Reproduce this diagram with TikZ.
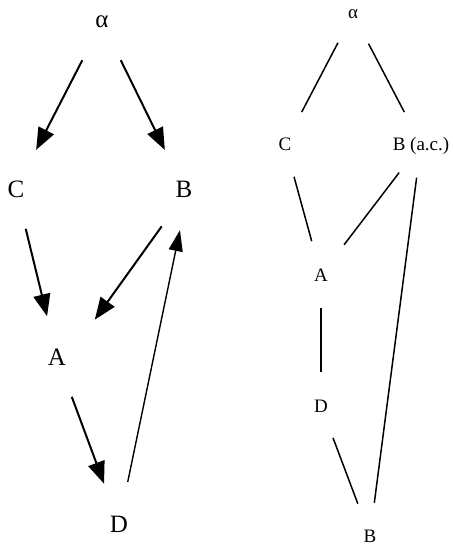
\documentclass[tikz,border=0pt]{standalone}
\usepackage{fontspec}
\setmainfont{Liberation Serif}
\usetikzlibrary{arrows.meta}
\begin{document}
\begin{tikzpicture}[x=1pt,y=-1pt,
  lbig/.style={font=\fontsize{25}{29}\selectfont, inner sep=0pt},
  lsmall/.style={font=\fontsize{19}{23}\selectfont, inner sep=0pt},
  bigarrow/.style={line width=2pt, -{Triangle[length=22pt,width=17pt]}},
  thinarrow/.style={line width=1.4pt, -{Triangle[length=21pt,width=14pt]}},
  plainedge/.style={line width=1.5pt}]
\useasboundingbox (0,0) rectangle (452,545);
% left graph
\node[lbig] (la) at (102,22) {α};
\node[lbig] (lc) at (16,189) {C};
\node[lbig] (lb) at (184,189) {B};
\node[lbig] (lA) at (57,357) {A};
\node[lbig] (ld) at (119,524) {D};
\draw[bigarrow, shorten <=43pt, shorten >=44pt] (la.center) -- (lc.center);
\draw[bigarrow, shorten <=42.5pt, shorten >=43.5pt] (la.center) -- (lb.center);
\draw[bigarrow, shorten <=41pt, shorten >=42pt] (lc.center) -- (lA.center);
\draw[bigarrow, shorten <=46pt, shorten >=46pt] ([xshift=4.5pt]lb.center) -- ([xshift=11pt]lA.center);
\draw[bigarrow, shorten <=42.5pt, shorten >=43pt] (lA.center) -- (ld.center);
\draw[thinarrow, shorten <=43pt, shorten >=42pt] (ld.center) -- ([xshift=4.5pt]lb.center);
% right graph
\node[lsmall] (ra) at (353,14) {α};
\node[lsmall] (rc) at (285,144) {C};
\node[lsmall, text depth=0pt] (rb) at (421,144) {B (a.c.)};
\node[lsmall] (rA) at (321,275) {A};
\node[lsmall] (rd) at (321,406) {D};
\node[lsmall] (rb2) at (370,536) {B};
\draw[plainedge, shorten <=32.5pt, shorten >=36pt] (ra.center) -- (rc.center);
\draw[plainedge, shorten <=33.5pt, shorten >=36pt] (ra.center) -- (rb.center);
\draw[plainedge, shorten <=34pt, shorten >=35pt] (rc.center) -- (rA.center);
\draw[plainedge, shorten <=36pt, shorten >=38pt] (rb.center) -- (rA.center);
\draw[plainedge, shorten <=34pt, shorten >=33.5pt] (rb.center) -- (rb2.center);
\draw[plainedge, shorten <=33pt, shorten >=34pt] (rA.center) -- (rd.center);
\draw[plainedge, shorten <=34pt, shorten >=34.5pt] (rd.center) -- (rb2.center);
\end{tikzpicture}
\end{document}
